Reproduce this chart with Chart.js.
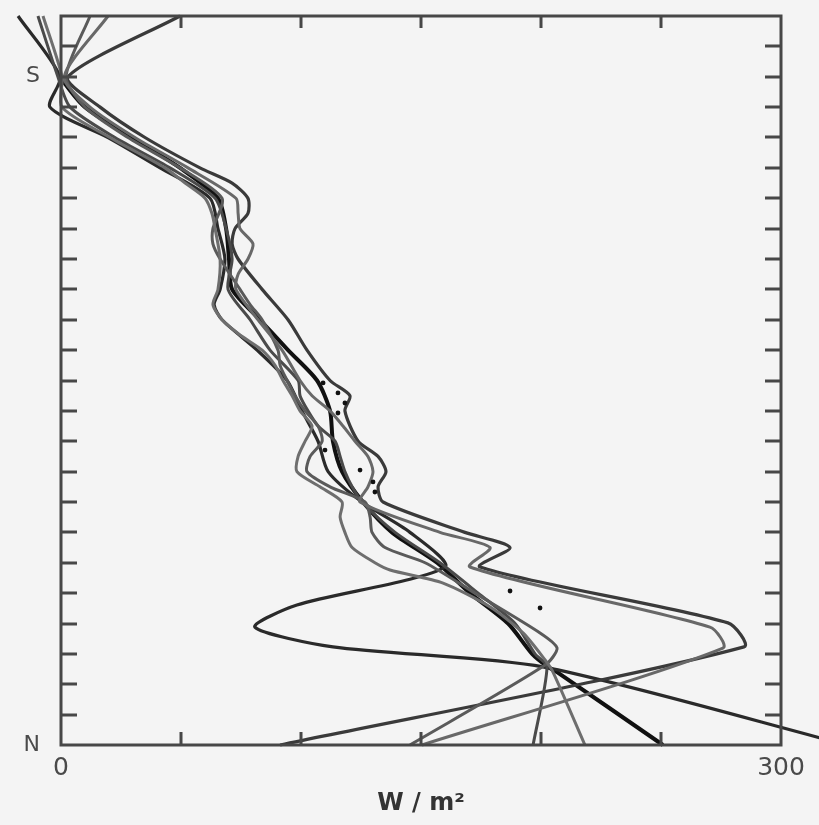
<!DOCTYPE html>
<html>
<head>
<meta charset="utf-8">
<script src="https://cdn.jsdelivr.net/npm/chart.js@4/dist/chart.umd.min.js"></script>
<style>
  html, body { margin: 0; padding: 0; background: #f4f4f4; }
  #wrap { width: 819px; height: 825px; }
</style>
</head>
<body>
<div id="wrap"><canvas id="c" width="819" height="825"></canvas></div>
<script>
// Meridional profiles of flux (W/m^2); position runs from N (0) to the top of the section (24).
const latA = [24, 22, 21, 20, 19, 18, 17, 16, 15, 14.5, 14, 13, 12, 11, 10, 9, 8, 7, 5.86, 4.61, 3.88, 3.23, 2.57, 0];
const fluxA = [-17.9, -0.4, -4.6, 19.6, 41.3, 62.1, 65.4, 68.3, 66.3, 63.8, 67.1, 81.7, 94.2, 100.4, 107.1, 111.3, 125.4, 145.4, 160, 98.3, 80.8, 113.3, 200.8, 327.5];

const latB = [24, 22, 21, 20, 19, 18.5, 18, 17.5, 17, 16.5, 16, 15, 14, 13, 12, 11.5, 11, 10, 9.5, 9, 8.5, 8, 7, 6.5, 5.86, 4.02, 3.23, 0];
const fluxB = [49.6, 2.9, 16.3, 35, 57.9, 71.3, 77.9, 77.9, 72.5, 71.3, 73.8, 83.8, 94.6, 102.5, 112.1, 120.4, 118.3, 123.8, 132.1, 135.4, 132.1, 134.2, 168.3, 187.1, 174.6, 277.9, 284.6, 91.3];

const latC = [24, 22, 21, 20, 19, 18, 17.5, 17, 16.5, 16, 15.5, 15, 14, 13, 12, 11.5, 11, 10.5, 10, 9.5, 9, 8.5, 8, 7, 6.5, 5.86, 3.88, 3.19, 0];
const fluxC = [19.6, 1.3, 12.1, 30.8, 52.9, 72.9, 73.8, 74.6, 80, 77.9, 73.8, 72.9, 82.1, 92.1, 99.6, 104.6, 112.1, 117.5, 122.5, 127.9, 130, 127.9, 124.6, 157.9, 178.8, 170.4, 270.4, 275.8, 150.4];

const latD = [24, 22, 21, 20, 19, 18, 17, 16.5, 16, 15, 14.5, 14, 13, 12.5, 12, 11.5, 11, 10.5, 10, 9.5, 9, 8.5, 8, 7.5, 7, 6.5, 6, 5, 3.69, 3.19, 2.63, 0];
const fluxD = [12.1, 2.1, 10, 27.9, 49.6, 67.1, 63.3, 63.3, 66.3, 74.6, 78.8, 83.8, 90.4, 91.3, 94.2, 97.5, 101.7, 107.1, 108.8, 103.8, 102.5, 112.1, 126.7, 128.8, 129.6, 135, 151.7, 172.5, 199.6, 206.7, 201.7, 145.4];

const latE = [24, 22, 21, 20, 19, 18, 17, 16, 15, 14, 13, 12, 11.5, 11, 10.5, 10, 9.5, 9, 8.5, 8, 7, 6, 5, 4, 3, 2.57, 0];
const fluxE = [-9.6, -1.3, 3.8, 22.5, 45.4, 64.2, 68.8, 71.3, 69.6, 78.8, 87.1, 98.8, 99.6, 102.9, 107.1, 114.2, 116.3, 118.3, 121.3, 125.4, 139.2, 157.9, 173.8, 189.2, 197.5, 202.5, 196.7];

const latF = [24, 22, 21, 20, 19, 18.5, 18, 17.5, 17, 16, 15, 14.5, 14, 13.5, 13, 12.5, 12, 11.5, 11, 10.5, 10, 9.5, 9, 8.5, 8, 7.5, 7, 6.5, 6, 5.76, 5.33, 4.54, 3.69, 2.8, 2.4, 0];
const fluxF = [-7.5, 0.4, 0.4, 20.4, 43.3, 51.7, 60, 62.9, 64.2, 66.3, 65.4, 63.3, 67.1, 74.6, 83.8, 89.2, 92.5, 96.3, 99.6, 104.6, 101.7, 98.8, 98.3, 107.9, 117.1, 116.3, 118.3, 121.3, 130.8, 137.1, 159.2, 178.8, 192.5, 201.7, 205, 218.3];

const latG = [24, 23, 22, 21, 20, 19, 18, 17, 16, 15, 14, 13, 12, 11, 10, 9, 8, 7, 6, 5, 4, 3, 2.57, 2.4, 0];
const fluxG = [-15.4, -7.9, -0.4, 10, 29.6, 49.6, 65.4, 68.8, 70, 71.3, 82.9, 94.6, 106.7, 112.1, 113.3, 117.1, 125.8, 137.9, 156.7, 170.4, 186.3, 196.3, 202.9, 206.7, 250.8];

// Observed values
const obsLat = [11.92, 11.59, 11.26, 10.93, 9.71, 9.05, 8.66, 8.33, 5.07, 4.51];
const obsFlux = [109.2, 115.4, 118.3, 115.4, 110, 124.6, 130, 130.8, 187.1, 199.6];

// Axis labels
const xLabels = { 0: '0', 300: '300' };
const yLabels = { 0: 'N', 22: 'S' };
const xTitle = 'W / m\u00b2';

function pts(lat, flux) { return lat.map((v, i) => ({ x: flux[i], y: v })); }

function profile(lat, flux, color, width) {
  return {
    data: pts(lat, flux),
    showLine: true,
    borderColor: color,
    borderWidth: width,
    pointRadius: 0,
    tension: 0.25,
    clip: false,
    order: 2
  };
}

// keep the plot box fixed: labels may overhang into the outer margins
function noPad(s) { s.paddingTop = 0; s.paddingBottom = 0; s.paddingLeft = 0; s.paddingRight = 0; }

const frame = {
  id: 'frame',
  beforeDraw(chart) {
    const { ctx, width, height } = chart;
    ctx.save();
    ctx.fillStyle = '#f4f4f4';
    ctx.fillRect(0, 0, width, height);
    ctx.restore();
  },
  afterDatasetsDraw(chart) {
    const { ctx, chartArea: a, scales: { x, y } } = chart;
    ctx.save();
    ctx.strokeStyle = '#474747';
    ctx.lineWidth = 3;
    ctx.lineCap = 'square';
    ctx.strokeRect(a.left, a.top, a.right - a.left, a.bottom - a.top);
    ctx.lineCap = 'butt';
    ctx.beginPath();
    y.ticks.forEach(t => {
      if (t.value <= y.min || t.value >= y.max) return;
      const py = Math.round(y.getPixelForValue(t.value));
      ctx.moveTo(a.left, py); ctx.lineTo(a.left + 16, py);
      ctx.moveTo(a.right, py); ctx.lineTo(a.right - 16, py);
    });
    x.ticks.forEach(t => {
      if (t.value <= x.min || t.value >= x.max) return;
      const px = Math.round(x.getPixelForValue(t.value));
      ctx.moveTo(px, a.bottom); ctx.lineTo(px, a.bottom - 13);
      ctx.moveTo(px, a.top); ctx.lineTo(px, a.top + 12);
    });
    ctx.stroke();
    ctx.restore();
  }
};

new Chart(document.getElementById('c'), {
  type: 'scatter',
  data: {
    datasets: [
      profile(latF, fluxF, '#6e6e6e', 3),
      profile(latC, fluxC, '#686868', 3),
      profile(latD, fluxD, '#5a5a5a', 3),
      profile(latE, fluxE, '#4a4a4a', 3),
      profile(latB, fluxB, '#3a3a3a', 3.2),
      profile(latA, fluxA, '#2a2a2a', 3.2),
      profile(latG, fluxG, '#111111', 4),
      {
        data: pts(obsLat, obsFlux),
        pointRadius: 2.4,
        pointBackgroundColor: '#111',
        pointBorderWidth: 0,
        showLine: false,
        clip: false,
        order: 1
      }
    ]
  },
  options: {
    responsive: false,
    animation: false,
    devicePixelRatio: 1,
    layout: { padding: { top: 16, right: 38, left: 0, bottom: 0 } },
    plugins: { legend: { display: false }, tooltip: { enabled: false } },
    elements: { line: { capBezierPoints: false } },
    scales: {
      x: {
        type: 'linear',
        min: 0, max: 300,
        grid: { display: false, drawTicks: false },
        border: { display: false },
        afterFit(s) { s.height = 80; noPad(s); },
        ticks: {
          stepSize: 50,
          autoSkip: false,
          maxRotation: 0,
          padding: 8,
          color: '#4a4a4a',
          font: { family: 'DejaVu Sans', size: 25 },
          callback: v => xLabels[v] ?? ''
        },
        title: {
          display: true,
          text: xTitle,
          color: '#333',
          font: { family: 'DejaVu Sans', size: 24, weight: 'bold' },
          padding: { top: 0, bottom: 7 }
        }
      },
      y: {
        type: 'linear',
        min: 0, max: 24,
        grid: { display: false, drawTicks: false },
        border: { display: false },
        afterFit(s) { s.width = 61; noPad(s); },
        ticks: {
          stepSize: 1,
          autoSkip: false,
          padding: 21,
          color: '#4a4a4a',
          font: { family: 'DejaVu Sans', size: 22 },
          callback: v => yLabels[v] ?? ''
        }
      }
    }
  },
  plugins: [frame]
});
</script>
</body>
</html>
